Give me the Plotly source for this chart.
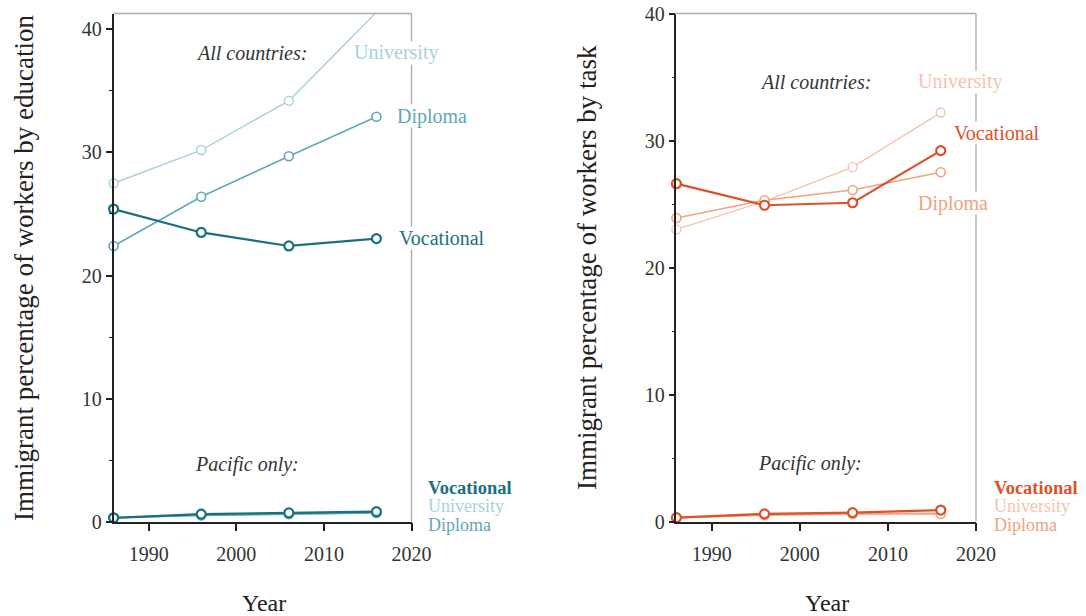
import plotly.graph_objects as go

# ---------------- data ----------------
years = [1986, 1996, 2006, 2016]

# Left panel: by education
edu_all_university = [27.5, 30.2, 34.2, 41.4]
edu_all_diploma = [22.4, 26.4, 29.7, 32.9]
edu_all_vocational = [25.4, 23.5, 22.4, 23.0]
edu_pac_university = [0.3, 0.5, 0.6, 0.7]
edu_pac_diploma = [0.3, 0.5, 0.6, 0.7]
edu_pac_vocational = [0.3, 0.6, 0.7, 0.8]

# Right panel: by task
task_all_university = [23.0, 25.2, 27.9, 32.2]
task_all_diploma = [23.9, 25.3, 26.1, 27.5]
task_all_vocational = [26.6, 24.9, 25.1, 29.2]
task_pac_university = [0.3, 0.5, 0.6, 0.7]
task_pac_diploma = [0.3, 0.5, 0.6, 0.6]
task_pac_vocational = [0.3, 0.6, 0.7, 0.9]

y_ticks = [0, 10, 20, 30, 40]
x_ticks = [1990, 2000, 2010, 2020]

# ---------------- style ----------------
W, H = 1086, 616
FONT = "Liberation Serif"
TEAL = {"Vocational": "#1b6f80", "Diploma": "#5fa8b8", "University": "#a6d2db"}
ORANGE = {"Vocational": "#d9522b", "Diploma": "#f0a383", "University": "#f7c3ae"}
LW = {"Vocational": 2.2, "Diploma": 1.6, "University": 1.4}


def px(x):
    return x / W


def py(y):
    return 1 - y / H


fig = go.Figure()


def add_series(xaxis, yaxis, values, name, colors):
    fig.add_trace(go.Scatter(
        x=years, y=values, mode="lines+markers", name=name,
        xaxis=xaxis, yaxis=yaxis, showlegend=False, cliponaxis=False,
        line=dict(color=colors[name], width=LW[name]),
        marker=dict(symbol="circle", size=9, color="white",
                    line=dict(color=colors[name], width=LW[name])),
    ))


# left panel
add_series("x", "y", edu_pac_university, "University", TEAL)
add_series("x", "y", edu_pac_diploma, "Diploma", TEAL)
add_series("x", "y", edu_pac_vocational, "Vocational", TEAL)
add_series("x", "y", edu_all_university, "University", TEAL)
add_series("x", "y", edu_all_diploma, "Diploma", TEAL)
add_series("x", "y", edu_all_vocational, "Vocational", TEAL)
# right panel
add_series("x2", "y2", task_pac_university, "University", ORANGE)
add_series("x2", "y2", task_pac_diploma, "Diploma", ORANGE)
add_series("x2", "y2", task_pac_vocational, "Vocational", ORANGE)
add_series("x2", "y2", task_all_university, "University", ORANGE)
add_series("x2", "y2", task_all_diploma, "Diploma", ORANGE)
add_series("x2", "y2", task_all_vocational, "Vocational", ORANGE)

xaxis_common = dict(
    range=[1986, 2020], tickvals=x_ticks, ticks="outside", ticklen=8,
    tickwidth=1.5, tickcolor="#222", showline=True, linecolor="#222",
    linewidth=1.5, showgrid=False, zeroline=False, automargin=False,
    tickfont=dict(family=FONT, size=20, color="#333"),
    ticklabelstandoff=6,
)
yaxis_common = dict(
    tickvals=y_ticks, ticks="outside", ticklen=6, tickwidth=1.5,
    tickcolor="#222", showline=True, linecolor="#222", linewidth=1.5,
    showgrid=False, zeroline=False, automargin=False,
    tickfont=dict(family=FONT, size=20, color="#333"),
    minor=dict(dtick=5, ticks="outside", ticklen=3, tickcolor="#222", tickwidth=1.2),
)

y_dom = [py(521.5), py(13.5)]
fig.update_layout(
    width=W, height=H,
    margin=dict(l=0, r=0, t=0, b=0, autoexpand=False),
    paper_bgcolor="white", plot_bgcolor="white",
    xaxis=dict(domain=[px(113.6), px(411.5)], anchor="y", **xaxis_common),
    yaxis=dict(domain=y_dom, anchor="x", range=[0, 41.3], **yaxis_common),
    xaxis2=dict(domain=[px(676.4), px(976)], anchor="y2", **xaxis_common),
    yaxis2=dict(domain=y_dom, anchor="x2", range=[0, 40], **yaxis_common),
    font=dict(family=FONT),
)

# top and right (gray) spines
shapes = []
for xr, yr in (("x domain", "y domain"), ("x2 domain", "y2 domain")):
    shapes.append(dict(type="line", xref=xr, yref=yr, x0=0, x1=1, y0=1, y1=1,
                       line=dict(color="#aaaaaa", width=1.3), layer="above"))
    shapes.append(dict(type="line", xref=xr, yref=yr, x0=1, x1=1, y0=0, y1=1,
                       line=dict(color="#aaaaaa", width=1.3), layer="above"))
# white gaps in the right spine behind labels
for sx, sy in ((411.5, 53), (411.5, 116), (411.5, 238),
               (976, 82), (976, 133), (976, 203)):
    shapes.append(dict(type="rect", xref="paper", yref="paper",
                       x0=px(sx - 4), x1=px(sx + 4), y0=py(sy + 11.5), y1=py(sy - 11.5),
                       fillcolor="white", line=dict(width=0), layer="above"))
fig.update_layout(shapes=shapes)

annotations = []


def label(text, x, y, color, size=20, xanchor="left", italic=False, bold=False):
    t = text
    if italic:
        t = "<i>" + t + "</i>"
    if bold:
        t = "<b>" + t + "</b>"
    annotations.append(dict(text=t, x=px(x), y=py(y), xref="paper", yref="paper",
                            xanchor=xanchor, yanchor="middle", showarrow=False,
                            borderpad=0,
                            font=dict(family=FONT, size=size, color=color)))


# left panel annotations
label("All countries:", 251, 53, "#333", xanchor="center", italic=True)
label("University", 353, 53, TEAL["University"])
label("Diploma", 396, 116, TEAL["Diploma"])
label("Vocational", 397.7, 238, TEAL["Vocational"])
label("Pacific only:", 247, 464, "#333", xanchor="center", italic=True)
label("Vocational", 427, 487.5, TEAL["Vocational"], size=18.5, bold=True)
label("University", 427, 506, TEAL["University"], size=18)
label("Diploma", 427, 524.5, TEAL["Diploma"], size=18)

# right panel annotations
label("All countries:", 815, 82, "#333", xanchor="center", italic=True)
label("University", 917, 82, ORANGE["University"])
label("Vocational", 952.5, 133, ORANGE["Vocational"])
label("Diploma", 917, 203, ORANGE["Diploma"])
label("Pacific only:", 810, 463, "#333", xanchor="center", italic=True)
label("Vocational", 993, 487.5, ORANGE["Vocational"], size=18.5, bold=True)
label("University", 993, 506, ORANGE["University"], size=18)
label("Diploma", 993, 524.5, ORANGE["Diploma"], size=18)

# axis titles
for text, x, y in (("Immigrant percentage of workers by education", 24, 268),
                   ("Immigrant percentage of workers by task", 587, 268)):
    annotations.append(dict(text=text, x=px(x), y=py(y), xref="paper", yref="paper",
                            xanchor="center", yanchor="middle", textangle=-90,
                            showarrow=False, font=dict(family=FONT, size=27, color="#222")))
for x in (263.5, 827):
    annotations.append(dict(text="Year", x=px(x), y=py(603), xref="paper", yref="paper",
                            xanchor="center", yanchor="middle", showarrow=False,
                            font=dict(family=FONT, size=24, color="#222")))

fig.update_layout(annotations=annotations)

fig.write_html("out.html",
               config={"displayModeBar": False},
               post_script="document.body.style.margin='0';document.body.style.overflow='hidden';")
